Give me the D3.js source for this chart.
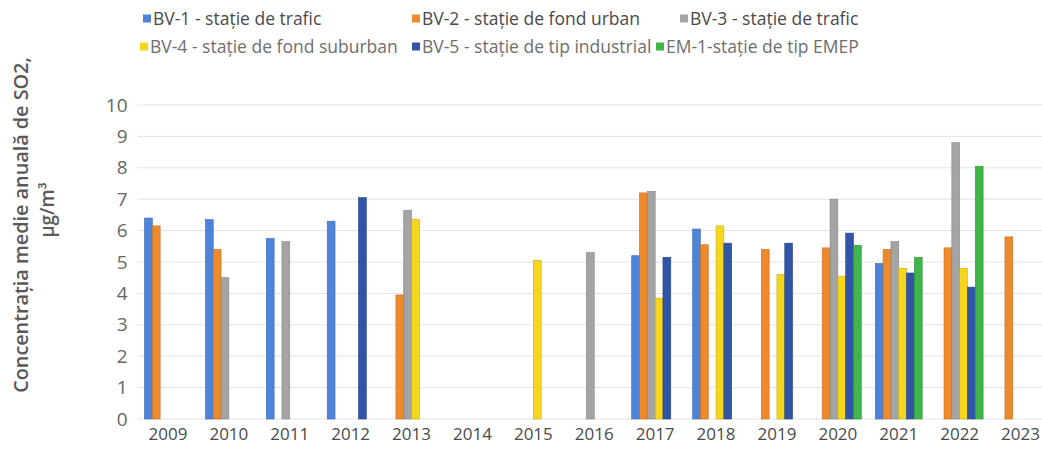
<!DOCTYPE html>
<html>
<head>
<meta charset="utf-8">
<script src="https://cdn.jsdelivr.net/npm/d3@7"></script>
<style>
  body { margin: 0; background: #fff; }
  text { font-family: "Open Sans", sans-serif; }
</style>
</head>
<body>
<svg id="chart" width="1042" height="464"></svg>
<script>
var years = ["2009", "2010", "2011", "2012", "2013", "2014", "2015", "2016",
  "2017", "2018", "2019", "2020", "2021", "2022", "2023"];

var seriesNames = [
  "BV-1 - stație de trafic",
  "BV-2 - stație de fond urban",
  "BV-3 - stație de trafic",
  "BV-4 - stație de fond suburban",
  "BV-5 - stație de tip industrial",
  "EM-1-stație de tip EMEP"
];

// one value per year, null = no measurement
var bv1 = [6.4, 6.35, 5.75, 6.3, null, null, null, null, 5.2, 6.05, null, null, 4.95, null, null];
var bv2 = [6.15, 5.4, null, null, 3.95, null, null, null, 7.2, 5.55, 5.4, 5.45, 5.4, 5.45, 5.8];
var bv3 = [null, 4.5, 5.65, null, 6.65, null, null, 5.3, 7.25, null, null, 7.0, 5.65, 8.8, null];
var bv4 = [null, null, null, null, 6.35, null, 5.05, null, 3.85, 6.15, 4.6, 4.55, 4.8, 4.8, null];
var bv5 = [null, null, null, 7.05, null, null, null, null, 5.15, 5.6, 5.6, 5.92, 4.65, 4.2, null];
var em1 = [null, null, null, null, null, null, null, null, null, null, null, 5.53, 5.15, 8.05, null];

var yTicks = [0, 1, 2, 3, 4, 5, 6, 7, 8, 9, 10];

var allSeries = [bv1, bv2, bv3, bv4, bv5, em1];
var colors = ["#4d84d8", "#ee8a2c", "#a4a4a4", "#f6d61c", "#3155a6", "#3fb649"];

var svg = d3.select("#chart");

var margin = {left: 137.5, right: 1051, top: 105, bottom: 419};

var x0 = d3.scaleBand().domain(years).range([margin.left, margin.right]);
var x1 = d3.scaleBand().domain(d3.range(allSeries.length))
  .range([7, x0.bandwidth() - 7]);
var y = d3.scaleLinear().domain([0, 10]).range([margin.bottom, margin.top]);

// gridlines
svg.append("g")
  .selectAll("line")
  .data(yTicks)
  .join("line")
    .attr("x1", margin.left)
    .attr("x2", margin.right)
    .attr("y1", function (d) { return y(d); })
    .attr("y2", function (d) { return y(d); })
    .attr("stroke", "#e3e3e3")
    .attr("stroke-width", 1);

// y axis labels
var yAxis = d3.axisLeft(y).tickValues(yTicks).tickSize(0).tickPadding(10);
var yAxisG = svg.append("g")
  .attr("transform", "translate(" + margin.left + ",0)")
  .call(yAxis);
yAxisG.select(".domain").remove();
yAxisG.selectAll("text")
  .attr("fill", "#666")
  .style("font-size", "19px");

// x axis labels
var xAxis = d3.axisBottom(x0).tickSize(0).tickPadding(9);
var xAxisG = svg.append("g")
  .attr("transform", "translate(0," + margin.bottom + ")")
  .call(xAxis);
xAxisG.select(".domain").remove();
xAxisG.selectAll("text")
  .attr("fill", "#4a4a4a")
  .style("font-size", "17px");

// bars
var flat = [];
allSeries.forEach(function (values, s) {
  values.forEach(function (v, i) {
    if (v !== null) flat.push({year: years[i], s: s, value: v});
  });
});

svg.append("g")
  .selectAll("rect")
  .data(flat)
  .join("rect")
    .attr("x", function (d) { return x0(d.year) + x1(d.s); })
    .attr("width", x1.bandwidth())
    .attr("y", function (d) { return y(d.value); })
    .attr("height", function (d) { return y(0) - y(d.value); })
    .attr("fill", function (d) { return colors[d.s]; })
    .attr("stroke", function (d) { return d3.color(colors[d.s]).darker(0.6); })
    .attr("stroke-width", 0.6);

// legend
var legendPos = [[143, 19], [412, 19], [680, 19], [140, 47], [412, 47], [656, 47]];
var legend = svg.append("g")
  .selectAll("g")
  .data(seriesNames)
  .join("g")
    .attr("transform", function (d, i) {
      return "translate(" + legendPos[i][0] + "," + legendPos[i][1] + ")";
    });
legend.append("rect")
  .attr("x", 0).attr("y", -4.5)
  .attr("width", 8).attr("height", 8)
  .attr("fill", function (d, i) { return colors[i]; });
legend.append("text")
  .attr("x", 10)
  .attr("dy", "0.35em")
  .attr("fill", function (d, i) { return i < 3 ? "#4a4a4a" : "#6e6e6e"; })
  .style("font-size", "17.5px")
  .text(function (d) { return d; });

// y axis title
svg.append("text")
  .attr("transform", "translate(28,225) rotate(-90)")
  .attr("text-anchor", "middle")
  .attr("fill", "#595959")
  .style("font-size", "19.8px")
  .style("font-weight", "600")
  .text("Concentrația medie anuală de SO2,");
svg.append("text")
  .attr("transform", "translate(54,210) rotate(-90)")
  .attr("text-anchor", "middle")
  .attr("fill", "#595959")
  .style("font-size", "19px")
  .style("font-weight", "600")
  .text("µg/m³");
</script>
</body>
</html>
